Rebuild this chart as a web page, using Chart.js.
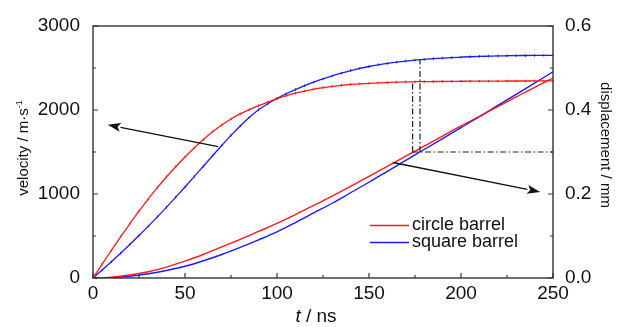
<!DOCTYPE html>
<html><head><meta charset="utf-8">
<script src="https://cdn.jsdelivr.net/npm/chart.js@4/dist/chart.umd.min.js"></script>
<style>html,body{margin:0;padding:0;background:#fff;}#wrap{width:619px;height:327px;}</style>
</head><body><div id="wrap"><canvas id="c" width="619" height="327"></canvas></div>
<script>
// ---- data ----
const tVel = [0,5,10,15,20,25,30,35,40,45,50,55,60,65,70,75,80,85,90,95,100,105,110,115,120,125,130,135,140,145,150,155,160,165,170,175,180,185,190,195,200,205,210,215,220,225,230,235,240,245,250];
const velCircle = [0,165,330,490,645,795,940,1075,1205,1325,1440,1548,1648,1740,1822,1893,1953,2005,2052,2095,2135,2170,2200,2226,2248,2266,2281,2294,2304,2312,2318,2323,2327,2331,2334,2336,2338,2339,2340,2341,2342,2343,2343,2344,2344,2345,2345,2345,2346,2346,2346];
const velSquare = [0,95,193,294,398,505,615,728,844,963,1084,1207,1331,1455,1578,1698,1810,1913,2002,2075,2138,2193,2243,2289,2331,2370,2406,2439,2469,2495,2518,2538,2555,2570,2583,2594,2603,2611,2618,2624,2629,2634,2638,2641,2644,2646,2648,2649,2650,2651,2651];
const tDisp = [0,10,20,30,40,50,60,70,80,90,100,110,120,130,140,150,160,170,180,190,200,210,220,230,240,250];
const dispCircle = [0,0.002,0.007,0.015,0.026,0.040,0.056,0.074,0.092,0.111,0.130,0.151,0.173,0.195,0.218,0.242,0.266,0.290,0.314,0.338,0.362,0.385,0.408,0.431,0.454,0.476];
const dispSquare = [0,0.001,0.004,0.010,0.018,0.028,0.041,0.056,0.073,0.091,0.110,0.132,0.155,0.178,0.203,0.228,0.254,0.280,0.306,0.332,0.358,0.384,0.411,0.437,0.464,0.491];
const seriesNames = ['circle barrel','square barrel'];
const xTicks = [0,50,100,150,200,250];
const yTicks = [0,1000,2000,3000];
const y1Ticks = [0,0.2,0.4,0.6];
// annotations: [tailT, tailVal, headT, headVal]
const arrowVel = [68, 1565, 8, 1823];
const arrowDisp = [163, 0.275, 243, 0.205];
// guides: [t, displacement, velocity]
const guideCircle = [173.7, 0.3, 2335];
const guideSquare = [177.7, 0.3, 2600];
const guideLevel = 0.3;

const RED = '#ff1a1a', BLUE = '#1a1aff';
const FONT = "'Liberation Sans', Arial, sans-serif";
const pts = (xs, ys) => xs.map((x, i) => ({x, y: ys[i]}));

const decor = {
  id: 'decor',
  afterDraw(chart) {
    const ctx = chart.ctx, a = chart.chartArea;
    const sx = chart.scales.x, sy = chart.scales.y, sy1 = chart.scales.y1;
    ctx.save();
    // frame
    ctx.strokeStyle = '#333'; ctx.lineWidth = 1.4;
    ctx.strokeRect(a.left, a.top, a.right - a.left, a.bottom - a.top);
    // ticks inward
    ctx.lineWidth = 1.2;
    ctx.beginPath();
    for (let v = 0; v <= 250; v += 25) {
      const px = sx.getPixelForValue(v), L = (v % 50 === 0) ? 5 : 3;
      ctx.moveTo(px, a.bottom); ctx.lineTo(px, a.bottom - L);
    }
    for (let v = 0; v <= 3000; v += 500) {
      const py = sy.getPixelForValue(v), L = (v % 1000 === 0) ? 5 : 3;
      ctx.moveTo(a.left, py); ctx.lineTo(a.left + L, py);
    }
    for (let k = 0; k <= 6; k++) {
      const py = sy1.getPixelForValue(k * 0.1), L = (k % 2 === 0) ? 5 : 3;
      ctx.moveTo(a.right, py); ctx.lineTo(a.right - L, py);
    }
    ctx.stroke();
    // dash-dot guides
    ctx.strokeStyle = '#222'; ctx.lineWidth = 1.2; ctx.setLineDash([6, 2.5, 1.5, 2.5]);
    ctx.beginPath();
    [guideCircle, guideSquare].forEach(g => {
      const px = sx.getPixelForValue(g[0]);
      ctx.moveTo(px, sy1.getPixelForValue(g[1]));
      ctx.lineTo(px, sy.getPixelForValue(g[2]));
    });
    const hy = sy1.getPixelForValue(guideLevel);
    ctx.moveTo(sx.getPixelForValue(guideCircle[0]), hy);
    ctx.lineTo(a.right, hy);
    ctx.stroke();
    ctx.setLineDash([]);
    // arrows
    function arrow(x0, y0, x1, y1) {
      ctx.strokeStyle = '#111'; ctx.fillStyle = '#111'; ctx.lineWidth = 1.3;
      const ang = Math.atan2(y1 - y0, x1 - x0), L = 13, W = 4.5;
      const bx = x1 - L * Math.cos(ang), by = y1 - L * Math.sin(ang);
      ctx.beginPath(); ctx.moveTo(x0, y0); ctx.lineTo(bx, by); ctx.stroke();
      ctx.beginPath(); ctx.moveTo(x1, y1);
      ctx.lineTo(bx + W * Math.sin(ang), by - W * Math.cos(ang));
      ctx.lineTo(bx + 3 * Math.cos(ang), by + 3 * Math.sin(ang));
      ctx.lineTo(bx - W * Math.sin(ang), by + W * Math.cos(ang));
      ctx.closePath(); ctx.fill();
    }
    arrow(sx.getPixelForValue(arrowVel[0]), sy.getPixelForValue(arrowVel[1]),
          sx.getPixelForValue(arrowVel[2]), sy.getPixelForValue(arrowVel[3]));
    arrow(sx.getPixelForValue(arrowDisp[0]), sy1.getPixelForValue(arrowDisp[1]),
          sx.getPixelForValue(arrowDisp[2]), sy1.getPixelForValue(arrowDisp[3]));
    // legend
    ctx.font = '18px ' + FONT; ctx.textBaseline = 'middle'; ctx.textAlign = 'left';
    [RED, BLUE].forEach((c, i) => {
      const y = 225.5 + i * 17;
      ctx.strokeStyle = c; ctx.lineWidth = 1.3;
      ctx.beginPath(); ctx.moveTo(370, y); ctx.lineTo(409, y); ctx.stroke();
      ctx.fillStyle = '#111'; ctx.fillText(seriesNames[i], 412, y);
    });
    // axis titles
    ctx.fillStyle = '#111';
    ctx.textBaseline = 'alphabetic';
    ctx.font = 'italic 19px ' + FONT;
    const wt = ctx.measureText('t').width;
    ctx.font = '19px ' + FONT;
    const rest = ' / ns', wr = ctx.measureText(rest).width;
    const x0 = 316 - (wt + wr) / 2;
    ctx.font = 'italic 19px ' + FONT; ctx.fillText('t', x0, 322);
    ctx.font = '19px ' + FONT; ctx.fillText(rest, x0 + wt, 322);
    // left title
    ctx.save();
    ctx.translate(28, 148); ctx.rotate(-Math.PI / 2);
    ctx.font = '15px ' + FONT;
    const main = 'velocity / m\u00b7s', wm = ctx.measureText(main).width;
    ctx.font = '9px ' + FONT;
    const sup = '-1', ws = ctx.measureText(sup).width;
    const lx = -(wm + ws) / 2;
    ctx.font = '15px ' + FONT; ctx.fillText(main, lx, 0);
    ctx.font = '9px ' + FONT; ctx.fillText(sup, lx + wm, -6);
    ctx.restore();
    // right title
    ctx.save();
    ctx.translate(601, 145); ctx.rotate(Math.PI / 2);
    ctx.font = '15px ' + FONT; ctx.textAlign = 'center';
    ctx.fillText('displacement / mm', 0, 0);
    ctx.restore();
    ctx.restore();
  }
};

new Chart(document.getElementById('c'), {
  type: 'line',
  data: {
    datasets: [
      {label: seriesNames[0], data: pts(tVel, velCircle), yAxisID: 'y', borderColor: RED, backgroundColor: RED, borderWidth: 1.3, pointRadius: 1.3, pointStyle: 'line', rotation: 90, pointBorderWidth: 1, cubicInterpolationMode: 'monotone'},
      {label: seriesNames[1], data: pts(tVel, velSquare), yAxisID: 'y', borderColor: BLUE, backgroundColor: BLUE, borderWidth: 1.3, pointRadius: 1.3, pointStyle: 'line', rotation: 90, pointBorderWidth: 1, cubicInterpolationMode: 'monotone'},
      {label: seriesNames[0] + ' disp', data: pts(tDisp, dispCircle), yAxisID: 'y1', borderColor: RED, borderWidth: 1.4, pointRadius: 0, cubicInterpolationMode: 'monotone'},
      {label: seriesNames[1] + ' disp', data: pts(tDisp, dispSquare), yAxisID: 'y1', borderColor: BLUE, borderWidth: 1.4, pointRadius: 0, cubicInterpolationMode: 'monotone'}
    ]
  },
  options: {
    responsive: false, animation: false, devicePixelRatio: 1,
    layout: {padding: {top: 26, left: 0, right: 0, bottom: 0}},
    plugins: {legend: {display: false}, tooltip: {enabled: false}},
    scales: {
      x: {type: 'linear', min: 0, max: 250, grid: {display: false}, border: {display: false},
          afterBuildTicks: s => { s.ticks = xTicks.map(v => ({value: v})); },
          ticks: {font: {family: FONT, size: 19}, color: '#111', padding: -4, maxRotation: 0, callback: v => String(v)},
          afterFit: s => { s.height = 49; }},
      y: {type: 'linear', position: 'left', min: 0, max: 3000, grid: {display: false}, border: {display: false},
          afterBuildTicks: s => { s.ticks = yTicks.map(v => ({value: v})); },
          ticks: {font: {family: FONT, size: 19}, color: '#111', padding: 5, callback: v => String(v)},
          afterFit: s => { s.width = 93; }},
      y1: {type: 'linear', position: 'right', min: 0, max: 0.6, grid: {display: false}, border: {display: false},
          afterBuildTicks: s => { s.ticks = y1Ticks.map(v => ({value: v})); },
          ticks: {font: {family: FONT, size: 19}, color: '#111', padding: 4, callback: v => Number(v).toFixed(1)},
          afterFit: s => { s.width = 66; }}
    }
  },
  plugins: [decor]
});
</script>
</body></html>
